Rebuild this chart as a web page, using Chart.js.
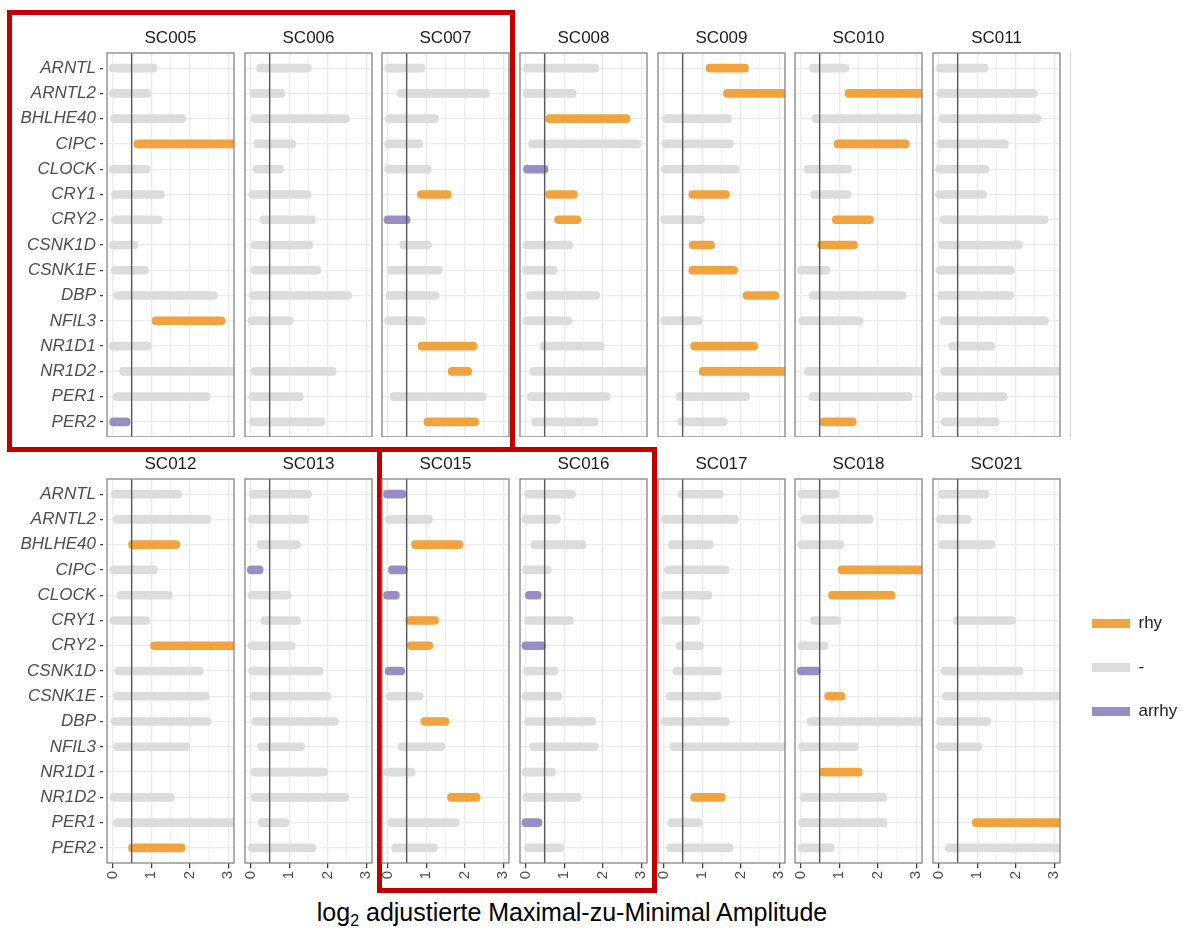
<!DOCTYPE html>
<html>
<head>
<meta charset="utf-8">
<script src="https://cdn.jsdelivr.net/npm/chart.js@4.4.1/dist/chart.umd.min.js"></script>
<style>
  html, body { margin: 0; padding: 0; background: #ffffff; }
  #fig { position: relative; width: 1193px; height: 933px; overflow: hidden;
         font-family: "Liberation Sans", Arial, Helvetica, sans-serif; }
  #fig canvas { position: absolute; }
  .frame { position: absolute; border: 5px solid #C00000; box-sizing: border-box; }
  .edge { position: absolute; width: 1px; background: #d4d4d4; }
  #xtitle { position: absolute; left: 0; width: 1144px; top: 898px; text-align: center;
            font-size: 25px; color: #000000; white-space: nowrap; }
  #xtitle .sub { font-size: 16px; position: relative; top: 5px; }
</style>
</head>
<body>
<div id="fig">
  <div class="edge" style="left:1070px; top:52px; height:386px;"></div>
  <div id="xtitle">log<span class="sub">2</span> adjustierte Maximal-zu-Minimal Amplitude</div>
  <div class="frame" style="left:7px; top:10px; width:508px; height:442px;"></div>
  <div class="frame" style="left:377px; top:447px; width:280px; height:446px;"></div>
</div>
<script>
// Genes shown on every panel, top to bottom
const genes = ['ARNTL', 'ARNTL2', 'BHLHE40', 'CIPC', 'CLOCK', 'CRY1', 'CRY2', 'CSNK1D',
               'CSNK1E', 'DBP', 'NFIL3', 'NR1D1', 'NR1D2', 'PER1', 'PER2'];

// Amplitude axis (log2)
const xTicks = [0, 0.5, 1, 1.5, 2, 2.5, 3];
const xMin = -0.15, xMax = 3.15;
const threshold = 0.49;

// Rhythmicity classes
const R = 'rhy', N = '-', A = 'arrhy';
const classes = [R, N, A];
const classColors = { 'rhy': '#F1A340', '-': '#DCDCDC', 'arrhy': '#998EC3' };

// Interval per gene: lower end, upper end, class (null = not measured)
const SC005_lo = [-0.09, -0.09, -0.06, 0.55, -0.09, -0.04, -0.04, -0.09, -0.04, 0.02, 1.02, -0.09, 0.18, 0.00, -0.08];
const SC005_hi = [1.15, 0.99, 1.90, 3.30, 0.97, 1.34, 1.28, 0.65, 0.93, 2.72, 2.92, 1.00, 3.30, 2.53, 0.45];
const SC005_st = [N, N, N, R, N, N, N, N, N, N, R, N, N, N, A];

const SC006_lo = [0.15, -0.02, 0.01, 0.08, 0.06, -0.05, 0.24, 0.01, 0.00, -0.04, -0.07, null, 0.00, -0.05, -0.03];
const SC006_hi = [1.57, 0.89, 2.56, 1.17, 0.85, 1.57, 1.68, 1.61, 1.82, 2.62, 1.10, null, 2.22, 1.37, 1.93];
const SC006_st = [N, N, N, N, N, N, N, N, N, N, N, null, N, N, N];

const SC007_lo = [-0.08, 0.24, -0.06, -0.08, -0.08, 0.77, -0.10, 0.31, -0.01, -0.05, -0.08, 0.79, 1.57, 0.06, 0.94];
const SC007_hi = [0.97, 2.64, 1.32, 0.91, 1.13, 1.65, 0.58, 1.14, 1.42, 1.34, 0.98, 2.32, 2.18, 2.56, 2.36];
const SC007_st = [N, N, N, N, N, R, A, N, N, N, N, R, R, N, R];

const SC008_lo = [-0.07, -0.07, 0.52, 0.07, -0.06, 0.52, 0.75, -0.07, -0.09, 0.00, -0.07, 0.37, 0.10, 0.04, 0.15];
const SC008_hi = [1.90, 1.31, 2.71, 2.99, 0.58, 1.34, 1.43, 1.22, 0.82, 1.92, 1.20, 2.04, 3.30, 2.19, 1.88];
const SC008_st = [N, N, R, N, A, R, R, N, N, N, N, N, N, N, N];

const SC009_lo = [1.10, 1.55, -0.03, -0.05, -0.06, 0.65, -0.08, 0.66, 0.65, 2.06, -0.08, 0.70, 0.92, 0.32, 0.37];
const SC009_hi = [2.20, 3.30, 1.76, 1.81, 1.96, 1.71, 1.06, 1.32, 1.92, 2.99, 1.00, 2.44, 3.30, 2.23, 1.65];
const SC009_st = [R, R, N, N, N, R, N, R, R, R, N, R, R, N, N];

const SC010_lo = [0.23, 1.15, 0.29, 0.87, 0.09, 0.26, 0.82, 0.44, -0.09, 0.22, -0.06, null, 0.09, 0.21, 0.50];
const SC010_hi = [1.25, 3.30, 3.30, 2.82, 1.32, 1.31, 1.89, 1.47, 0.76, 2.74, 1.62, null, 3.30, 2.90, 1.44];
const SC010_st = [N, R, N, R, N, N, R, R, N, N, N, null, N, N, R];

const SC011_lo = [-0.06, -0.05, 0.01, -0.05, -0.08, -0.08, 0.03, -0.01, -0.07, -0.03, 0.03, 0.26, 0.05, -0.08, 0.06];
const SC011_hi = [1.27, 2.56, 2.65, 1.81, 1.31, 1.24, 2.84, 2.17, 1.97, 1.95, 2.85, 1.46, 3.30, 1.78, 1.57];
const SC011_st = [N, N, N, N, N, N, N, N, N, N, N, N, N, N, N];

const SC012_lo = [-0.04, 0.00, 0.41, -0.07, 0.11, -0.07, 0.98, 0.05, 0.00, -0.04, 0.00, null, -0.07, 0.00, 0.41];
const SC012_hi = [1.79, 2.55, 1.74, 1.16, 1.55, 0.96, 3.30, 2.35, 2.51, 2.55, 2.00, null, 1.60, 3.30, 1.88];
const SC012_st = [N, N, R, N, N, N, R, N, N, N, N, null, N, N, R];

const SC013_lo = [-0.04, -0.06, 0.16, -0.09, -0.07, 0.26, -0.07, -0.06, -0.02, 0.03, 0.18, 0.01, 0.00, 0.19, -0.06];
const SC013_hi = [1.58, 1.51, 1.29, 0.32, 1.04, 1.29, 1.16, 1.88, 2.08, 2.28, 1.40, 2.00, 2.55, 0.99, 1.69];
const SC013_st = [N, N, N, A, N, N, N, N, N, N, N, N, N, N, N];

const SC015_lo = [-0.11, -0.06, 0.62, 0.00, -0.11, 0.47, 0.51, -0.07, -0.04, 0.86, 0.26, -0.11, 1.55, 0.01, 0.10];
const SC015_hi = [0.47, 1.16, 1.95, 0.51, 0.30, 1.32, 1.17, 0.44, 0.92, 1.59, 1.49, 0.71, 2.40, 1.85, 1.29];
const SC015_st = [A, N, R, A, A, R, R, A, N, R, N, N, R, N, N];

const SC016_lo = [-0.03, -0.10, 0.13, -0.08, -0.01, -0.03, -0.10, -0.06, -0.10, -0.03, 0.10, -0.10, -0.08, -0.10, -0.03];
const SC016_hi = [1.29, 0.90, 1.57, 0.66, 0.40, 1.24, 0.52, 0.84, 0.94, 1.82, 1.89, 0.77, 1.44, 0.42, 0.99];
const SC016_st = [N, N, N, N, A, N, A, N, N, N, N, N, N, A, N];

const SC017_lo = [0.37, -0.06, 0.12, 0.00, -0.07, -0.07, 0.32, 0.24, 0.06, -0.07, 0.16, null, 0.70, 0.10, 0.08];
const SC017_hi = [1.55, 1.94, 1.29, 1.69, 1.25, 0.95, 1.03, 1.51, 1.49, 1.71, 3.30, null, 1.60, 0.99, 1.80];
const SC017_st = [N, N, N, N, N, N, N, N, N, N, N, null, R, N, N];

const SC018_lo = [-0.07, 0.00, -0.07, 0.97, 0.72, 0.25, -0.07, -0.09, 0.62, 0.16, -0.06, 0.48, -0.02, -0.06, -0.07];
const SC018_hi = [0.99, 1.88, 1.12, 3.30, 2.45, 1.04, 0.71, 0.51, 1.15, 3.30, 1.50, 1.60, 2.24, 2.24, 0.87];
const SC018_st = [N, N, N, R, R, N, N, A, R, N, N, R, N, N, N];

const SC021_lo = [-0.01, -0.06, -0.01, null, null, 0.37, null, 0.06, 0.09, -0.06, -0.06, null, null, 0.87, 0.17];
const SC021_hi = [1.30, 0.84, 1.46, null, null, 2.00, null, 2.19, 3.30, 1.35, 1.12, null, null, 3.30, 3.30];
const SC021_st = [N, N, N, null, null, N, null, N, N, N, N, null, null, R, N];

// Facet table: name, lower, upper, class
const panels = [
  ['SC005', SC005_lo, SC005_hi, SC005_st], ['SC006', SC006_lo, SC006_hi, SC006_st],
  ['SC007', SC007_lo, SC007_hi, SC007_st], ['SC008', SC008_lo, SC008_hi, SC008_st],
  ['SC009', SC009_lo, SC009_hi, SC009_st], ['SC010', SC010_lo, SC010_hi, SC010_st],
  ['SC011', SC011_lo, SC011_hi, SC011_st], ['SC012', SC012_lo, SC012_hi, SC012_st],
  ['SC013', SC013_lo, SC013_hi, SC013_st], ['SC015', SC015_lo, SC015_hi, SC015_st],
  ['SC016', SC016_lo, SC016_hi, SC016_st], ['SC017', SC017_lo, SC017_hi, SC017_st],
  ['SC018', SC018_lo, SC018_hi, SC018_st], ['SC021', SC021_lo, SC021_hi, SC021_st]
];

// ---- layout of the facet grid (7 columns x 2 rows) ----
const colLeft = [107, 245, 382, 520, 658, 795, 933];
const rowTop = [53, 479];
const areaW = 127, areaH = 384;
const titleBlock = 26;          // 20.4 text + 1.1 + 4.5 padding
const xAxisH = [0, 30];
const sidePad = 10;

const FONT = '"Liberation Sans", Arial, Helvetica, sans-serif';
Chart.defaults.font.family = FONT;
Chart.defaults.animation = false;

const fig = document.getElementById('fig');

const panelFrame = {
  id: 'panelFrame',
  afterDatasetsDraw(chart) {
    const { ctx, chartArea: a, scales: { x } } = chart;
    const px = x.getPixelForValue(threshold);
    ctx.save();
    ctx.strokeStyle = '#595959';
    ctx.lineWidth = 1.4;
    ctx.beginPath();
    ctx.moveTo(px, a.top);
    ctx.lineTo(px, a.bottom);
    ctx.stroke();
    ctx.strokeStyle = '#858585';
    ctx.lineWidth = 1.3;
    ctx.strokeRect(a.left, a.top, a.right - a.left, a.bottom - a.top);
    ctx.restore();
  }
};

function buildDatasets(lo, hi, st) {
  return classes.map(cls => ({
    label: cls,
    data: genes.map((g, i) => (st[i] === cls ? { x: [lo[i], hi[i]], y: i } : null))
               .filter(d => d !== null),
    backgroundColor: classColors[cls],
    borderWidth: 0,
    borderRadius: 4,
    borderSkipped: false,
    barThickness: 8,
    grouped: false,
    clip: 0
  }));
}

panels.forEach(([name, lo, hi, st], idx) => {
  const row = Math.floor(idx / 7), col = idx % 7;
  const first = col === 0;
  const bottomRow = row === 1;
  const cLeft = first ? 0 : colLeft[col] - sidePad;
  const yAxisW = first ? colLeft[0] : 0;
  const padL = first ? 0 : sidePad;
  const cTop = rowTop[row] - titleBlock;
  const w = (colLeft[col] - cLeft) + areaW + sidePad;
  const h = titleBlock + areaH + xAxisH[row];

  const canvas = document.createElement('canvas');
  canvas.width = w;
  canvas.height = h;
  canvas.style.left = cLeft + 'px';
  canvas.style.top = cTop + 'px';
  canvas.style.width = w + 'px';
  canvas.style.height = h + 'px';
  fig.appendChild(canvas);

  new Chart(canvas, {
    type: 'bar',
    data: { datasets: buildDatasets(lo, hi, st) },
    options: {
      responsive: false,
      devicePixelRatio: 1,
      indexAxis: 'y',
      layout: { padding: { left: padL, right: sidePad, top: 0, bottom: 0 } },
      plugins: {
        legend: { display: false },
        tooltip: { enabled: false },
        title: {
          display: true,
          text: name,
          fullSize: false,
          color: '#1A1A1A',
          font: { size: 17, weight: 'normal' },
          padding: { top: 1.1, bottom: 4.5 }
        }
      },
      scales: {
        x: {
          type: 'linear',
          min: xMin,
          max: xMax,
          afterBuildTicks: s => { s.ticks = xTicks.map(v => ({ value: v })); },
          afterFit: s => { s.height = xAxisH[row]; s.paddingLeft = 0; s.paddingRight = 0; },
          border: { display: false },
          grid: {
            color: c => (Number.isInteger(c.tick.value) ? '#EBEBEB' : '#F3F3F3'),
            lineWidth: c => (Number.isInteger(c.tick.value) ? 1.3 : 0.9),
            drawTicks: bottomRow,
            tickLength: 5,
            tickColor: c => (Number.isInteger(c.tick.value) ? '#333333' : 'rgba(0,0,0,0)'),
            tickWidth: 1.2
          },
          ticks: {
            display: bottomRow,
            autoSkip: false,
            minRotation: 90,
            maxRotation: 90,
            padding: 3,
            color: '#4D4D4D',
            font: { size: 15 },
            callback: v => (Number.isInteger(v) ? String(v) : '')
          }
        },
        y: {
          type: 'linear',
          reverse: true,
          offset: false,
          min: -0.6,
          max: genes.length - 1 + 0.6,
          afterBuildTicks: s => { s.ticks = genes.map((g, i) => ({ value: i })); },
          afterFit: s => { s.width = yAxisW; s.paddingTop = 0; s.paddingBottom = 0; },
          border: { display: false },
          grid: {
            offset: false,
            color: '#EBEBEB',
            lineWidth: 1.3,
            drawTicks: first,
            tickLength: 7,
            tickColor: '#333333',
            tickWidth: 1.2,
            tickBorderDash: [3, 4]
          },
          ticks: {
            display: first,
            autoSkip: false,
            padding: 4,
            color: '#4D4D4D',
            font: { size: 17, style: 'italic' },
            callback: v => genes[v]
          }
        }
      }
    },
    plugins: [panelFrame]
  });
});

// Shared legend for the rhythmicity classes
(function () {
  const canvas = document.createElement('canvas');
  const w = 128, h = 340;
  canvas.width = w;
  canvas.height = h;
  canvas.style.left = '1065px';
  canvas.style.top = '588px';
  canvas.style.width = w + 'px';
  canvas.style.height = h + 'px';
  fig.appendChild(canvas);
  new Chart(canvas, {
    type: 'bar',
    data: {
      labels: [],
      datasets: classes.map(cls => ({ label: cls, data: [], backgroundColor: classColors[cls], borderWidth: 0 }))
    },
    options: {
      responsive: false,
      devicePixelRatio: 1,
      layout: { padding: 0 },
      scales: { x: { display: false }, y: { display: false } },
      plugins: {
        tooltip: { enabled: false },
        legend: {
          position: 'top',
          align: 'start',
          onClick: null,
          labels: {
            boxWidth: 38,
            boxHeight: 9,
            padding: 27,
            color: '#1A1A1A',
            font: { size: 17 }
          }
        }
      }
    }
  });
})();
</script>
</body>
</html>
